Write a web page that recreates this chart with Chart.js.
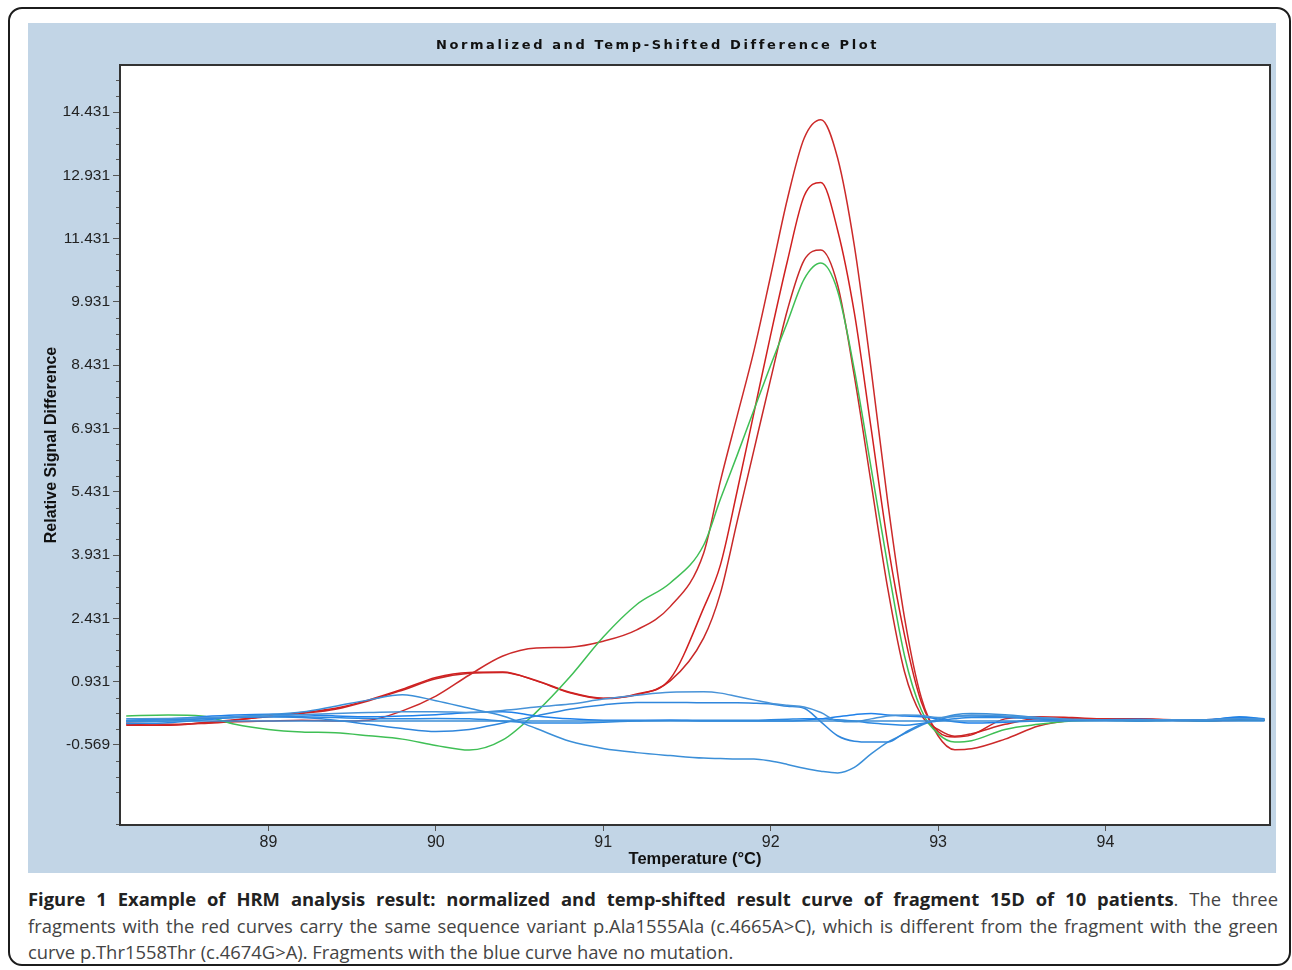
<!DOCTYPE html>
<html><head><meta charset="utf-8">
<script src="https://cdn.jsdelivr.net/npm/chart.js@4.4.1/dist/chart.umd.min.js"></script>
<style>
html,body{margin:0;padding:0;background:#fff;width:1292px;height:970px;overflow:hidden;position:relative;}
#frame{position:absolute;left:8px;top:7px;width:1283px;height:959px;border:2px solid #1c1c1c;border-radius:14px;box-sizing:border-box;}
#panel{position:absolute;left:28px;top:23px;width:1248px;height:850px;background:#c2d5e6;}
#panel canvas{position:absolute;left:0;top:0;}
#chartTitle{position:absolute;left:28px;top:37px;width:1259px;text-align:center;font:bold 13px 'DejaVu Sans',sans-serif;letter-spacing:2.6px;color:#111;line-height:15px;}
#caption{position:absolute;left:28px;top:886px;width:1250px;font-family:'Open Sans',sans-serif;font-size:18.4px;line-height:26.5px;color:#444;}
#caption div{text-align:justify;text-align-last:justify;}
#caption div.last{text-align-last:left;}
#caption b{color:#222;}
</style></head>
<body>
<div id="frame"></div>
<div id="panel"><canvas id="c" width="1248" height="850"></canvas></div>
<div id="chartTitle">Normalized and Temp-Shifted Difference Plot</div>
<div id="caption">
<div><b>Figure 1 Example of HRM analysis result: normalized and temp-shifted result curve of fragment 15D of 10 patients</b>. The three</div>
<div>fragments with the red curves carry the same sequence variant p.Ala1555Ala (c.4665A&gt;C), which is different from the fragment with the green</div>
<div class="last">curve p.Thr1558Thr (c.4674G&gt;A). Fragments with the blue curve have no mutation.</div>
</div>
<script>
// ---- data ----
const temps = [88.15, 88.4, 88.6, 88.8, 89.0, 89.2, 89.4, 89.6, 89.8, 90.0, 90.2, 90.4, 90.6, 90.8, 91.0, 91.2, 91.4, 91.6, 91.7, 91.8, 91.9, 92.0, 92.1, 92.2, 92.3, 92.4, 92.5, 92.6, 92.7, 92.8, 92.9, 93.0, 93.1, 93.2, 93.4, 93.6, 93.8, 94.0, 94.2, 94.4, 94.6, 94.8, 94.95];
const red1 = [-0.05, -0.08, -0.06, -0.02, 0.0, 0.02, 0.0, 0.02, 0.24, 0.59, 1.09, 1.54, 1.73, 1.75, 1.89, 2.16, 2.71, 3.98, 5.69, 7.23, 8.77, 10.55, 12.37, 13.81, 14.25, 13.34, 11.26, 8.34, 5.17, 2.44, 0.55, -0.35, -0.68, -0.66, -0.43, -0.12, 0.02, 0.05, 0.03, 0.02, 0.0, 0.02, 0.02];
const red2 = [-0.1, -0.1, -0.05, 0.02, 0.12, 0.2, 0.3, 0.5, 0.75, 1.03, 1.15, 1.16, 0.95, 0.67, 0.53, 0.64, 1.0, 2.68, 3.7, 5.45, 7.3, 9.15, 10.9, 12.44, 12.76, 11.63, 9.67, 6.94, 4.19, 2.03, 0.45, -0.25, -0.38, -0.33, 0.05, 0.1, 0.08, 0.05, 0.05, 0.03, 0.02, 0.04, 0.02];
const red3 = [-0.08, -0.1, -0.04, 0.03, 0.1, 0.18, 0.28, 0.48, 0.73, 1.0, 1.13, 1.15, 0.96, 0.68, 0.54, 0.62, 0.95, 1.97, 3.03, 4.73, 6.42, 8.1, 9.74, 10.92, 11.16, 10.33, 8.17, 5.64, 3.13, 1.16, 0.14, -0.2, -0.36, -0.3, -0.08, 0.05, 0.05, 0.03, 0.04, 0.02, 0.03, 0.05, 0.02];
const green1 = [0.12, 0.14, 0.12, -0.08, -0.2, -0.26, -0.28, -0.35, -0.43, -0.58, -0.69, -0.45, 0.21, 1.04, 1.99, 2.76, 3.27, 4.17, 5.26, 6.3, 7.37, 8.43, 9.45, 10.47, 10.85, 10.19, 8.32, 6.0, 3.67, 1.54, 0.26, -0.3, -0.5, -0.47, -0.2, -0.08, 0.0, 0.02, 0.0, 0.02, 0.0, 0.03, 0.02];
const blue1 = [0, 0, 0, 0, 0, 0, 0, 0, 0, 0, 0, 0, 0, 0, 0, 0, 0, 0, 0, 0, 0, 0, 0, 0, 0, 0, 0, 0, 0, 0, 0, 0, 0, 0, 0, 0, 0, 0, 0, 0, 0, 0, 0];
const blue2 = [0.05, 0.06, 0.08, 0.1, 0.12, 0.15, 0.18, 0.2, 0.22, 0.22, 0.2, 0.25, 0.33, 0.4, 0.52, 0.61, 0.68, 0.69, 0.66, 0.58, 0.5, 0.42, 0.37, 0.33, 0.2, 0.0, -0.02, 0.05, 0.12, 0.14, 0.13, 0.08, 0.1, 0.14, 0.12, 0.08, 0.04, 0.02, 0.02, 0.03, 0.02, 0.06, 0.04];
const blue3 = [0.0, 0.03, 0.05, 0.08, 0.1, 0.08, 0.02, -0.08, -0.18, -0.25, -0.2, -0.05, 0.12, 0.28, 0.38, 0.44, 0.44, 0.43, 0.43, 0.43, 0.42, 0.4, 0.35, 0.3, -0.02, -0.35, -0.48, -0.5, -0.5, -0.28, -0.08, 0.02, 0.12, 0.12, 0.1, 0.05, 0.02, 0.02, 0.0, 0.02, 0.0, 0.03, 0.02];
const blue4 = [-0.02, 0.0, 0.05, 0.1, 0.15, 0.21, 0.35, 0.5, 0.62, 0.48, 0.3, 0.12, -0.18, -0.48, -0.65, -0.75, -0.82, -0.88, -0.89, -0.9, -0.9, -0.95, -1.03, -1.12, -1.19, -1.23, -1.1, -0.78, -0.5, -0.3, -0.1, 0.05, 0.15, 0.18, 0.15, 0.08, 0.03, 0.02, 0.03, 0.02, 0.03, 0.05, 0.03];
const blue5 = [0.02, 0.05, 0.1, 0.14, 0.16, 0.15, 0.12, 0.1, 0.12, 0.15, 0.2, 0.22, 0.12, 0.05, 0.02, 0.02, 0.02, 0.0, 0.0, 0.0, 0.0, 0.0, 0.0, 0.02, 0.05, 0.1, 0.15, 0.18, 0.14, 0.12, 0.1, 0.05, -0.02, -0.05, -0.03, 0.0, 0.02, 0.03, 0.04, 0.02, 0.03, 0.08, 0.04];
const blue6 = [-0.06, -0.04, 0.02, 0.08, 0.1, 0.1, 0.08, 0.06, 0.05, 0.06, 0.05, 0.0, -0.05, -0.05, -0.03, 0.0, 0.02, 0.02, 0.02, 0.02, 0.02, 0.03, 0.04, 0.05, 0.05, 0.03, 0.0, -0.05, -0.08, -0.1, -0.06, 0.0, 0.05, 0.08, 0.08, 0.05, 0.03, 0.02, 0.02, 0.03, 0.02, 0.1, 0.05];
const xTicks = [89, 90, 91, 92, 93, 94];
const yTicks = [-0.569, 0.931, 2.431, 3.931, 5.431, 6.931, 8.431, 9.931, 11.431, 12.931, 14.431];
const yTickLabels = ['-0.569', '0.931', '2.431', '3.931', '5.431', '6.931', '8.431', '9.931', '11.431', '12.931', '14.431'];
const yMinorStep = 0.375;
const xRange = [88.113, 94.983];
const yRange = [-2.465, 15.545];

// ---- chart ----
const FAM = "'Liberation Sans', Arial, sans-serif";
function series(vals){ return temps.map((t, i) => ({x: t, y: vals[i]})); }
const defs = [
  [blue1, '#3a8dd6'], [blue2, '#4893d8'], [blue3, '#2f86dc'], [blue4, '#3b8fd8'], [blue5, '#1f80ea'], [blue6, '#2a88e2'],
  [green1, '#3fbf55'],
  [red1, '#cc2a2a'], [red2, '#d02020'], [red3, '#c82828']
];
const datasets = defs.map(([v, c]) => ({data: series(v), borderColor: c, borderWidth: 1.5, pointRadius: 0, fill: false, cubicInterpolationMode: 'monotone'}));

const plotDeco = {
  id: 'plotDeco',
  beforeDraw(chart) {
    const {ctx, chartArea: a} = chart;
    ctx.save(); ctx.fillStyle = '#ffffff';
    ctx.fillRect(a.left, a.top, a.right - a.left, a.bottom - a.top);
    ctx.restore();
  },
  afterDraw(chart) {
    const {ctx, chartArea: a} = chart;
    const ys = chart.scales.y;
    ctx.save();
    ctx.strokeStyle = '#555'; ctx.lineWidth = 1;
    for (let k = -20; k <= 60; k++) {
      if (k % 4 === 0) continue;
      const v = yTicks[0] + k * yMinorStep;
      if (v <= ys.min || v >= ys.max) continue;
      const py = Math.round(ys.getPixelForValue(v)) + 0.5;
      ctx.beginPath(); ctx.moveTo(a.left - 4, py); ctx.lineTo(a.left, py); ctx.stroke();
    }
    ctx.strokeStyle = '#333'; ctx.lineWidth = 2;
    ctx.strokeRect(Math.round(a.left), Math.round(a.top), Math.round(a.right - a.left), Math.round(a.bottom - a.top));
    ctx.restore();
  }
};

new Chart(document.getElementById('c'), {
  type: 'line',
  data: {datasets},
  options: {
    responsive: false, animation: false, devicePixelRatio: 1,
    layout: {padding: {top: 42, right: 6, left: 0, bottom: 0}},
    plugins: {legend: {display: false}, tooltip: {enabled: false}, title: {display: false}},
    scales: {
      x: {
        type: 'linear', min: xRange[0], max: xRange[1],
        afterBuildTicks: s => { s.ticks = xTicks.map(v => ({value: v})); },
        afterFit: s => { s.height = 48; },
        grid: {drawOnChartArea: false, tickLength: 6, color: '#555'},
        border: {display: false},
        ticks: {autoSkip: false, maxRotation: 0, padding: 2, color: '#222', font: {family: FAM, size: 16}, callback: v => String(v)},
        title: {display: true, text: 'Temperature (°C)', color: '#111', font: {family: FAM, size: 16.5, weight: 'bold'}, padding: {top: 0, bottom: 4}}
      },
      y: {
        type: 'linear', min: yRange[0], max: yRange[1],
        afterBuildTicks: s => { s.ticks = yTicks.map(v => ({value: v})); },
        afterFit: s => { s.width = 92; },
        grid: {drawOnChartArea: false, tickLength: 7, color: '#555'},
        border: {display: false},
        ticks: {autoSkip: false, padding: 3, color: '#222', font: {family: FAM, size: 15.5}, callback: (v) => { const i = yTicks.indexOf(v); return i >= 0 ? yTickLabels[i] : ''; }},
        title: {display: true, text: 'Relative Signal Difference', color: '#111', font: {family: FAM, size: 16, weight: 'bold'}, padding: {top: 14, bottom: 0}}
      }
    }
  },
  plugins: [plotDeco]
});
</script>
</body></html>
